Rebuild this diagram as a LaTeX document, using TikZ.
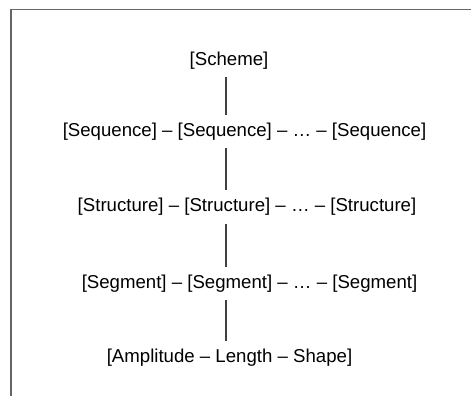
\documentclass[tikz,border=0pt]{standalone}
\usepackage{fontspec}
\setmainfont{Liberation Sans}
\tikzset{
	level/.style={inner sep=0pt, text height=0.75em, text depth=0.2em, font=\fontsize{10.6pt}{12pt}\selectfont},
	link/.style={draw=black!75, line width=0.65pt, shorten >=0.16cm, shorten <=0.16cm}
}
\begin{document}
\begin{tikzpicture}
	\useasboundingbox (0,0) rectangle (9.42,-7.92);
	\draw [black!60, line width=1.1pt] (0.22,-7.95) -- (0.22,-0.19) -- (9.45,-0.19);
	\coordinate (spine) at (4.52,0);
	\node [level] (scheme) at (4.58,-1.21) {[Scheme]};
	\node [level] (sequence) at (4.89,-2.63) {[Sequence] – [Sequence] – … – [Sequence]};
	\node [level] (structure) at (4.94,-4.14) {[Structure] – [Structure] – … – [Structure]};
	\node [level] (segment) at (4.99,-5.67) {[Segment] – [Segment] – … – [Segment]};
	\node [level] (feature) at (4.59,-7.15) {[Amplitude – Length – Shape]};
	\draw [link] (scheme.south -| spine) -- (sequence.north -| spine);
	\draw [link] (sequence.south -| spine) -- (structure.north -| spine);
	\draw [link] (structure.south -| spine) -- (segment.north -| spine);
	\draw [link] (segment.south -| spine) -- (feature.north -| spine);
\end{tikzpicture}
\end{document}
